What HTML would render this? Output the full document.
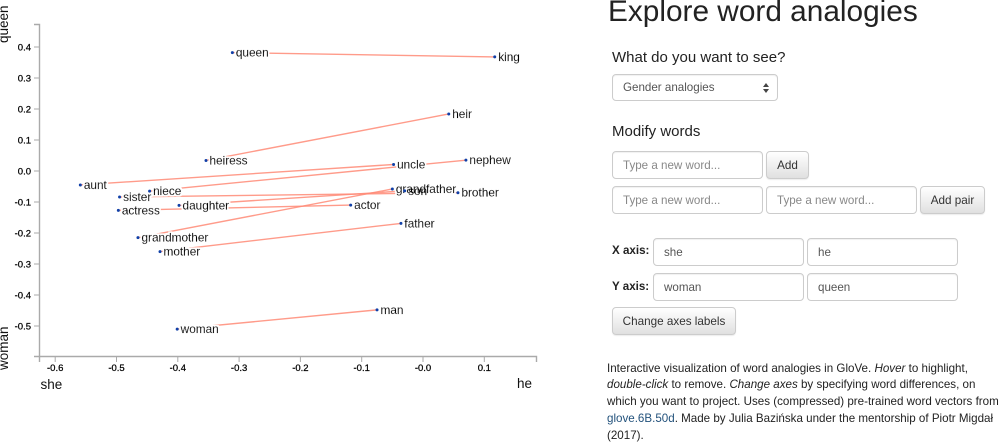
<!DOCTYPE html>
<html lang="en">
<head>
<meta charset="utf-8">
<title>Explore word analogies</title>
<style>
html,body{margin:0;padding:0;background:#fff;}
body{width:999px;height:441px;position:relative;overflow:hidden;font-family:"Liberation Sans",Arial,sans-serif;color:#222;}
#chart{position:absolute;left:0;top:0;}
#chart text{font-family:"Liberation Sans",Arial,sans-serif;}
.abs{position:absolute;white-space:nowrap;margin:0;}
.title{left:608px;top:-10px;font-size:29.8px;line-height:44px;font-weight:400;color:#222;}
.h{left:612px;font-size:15px;line-height:20px;font-weight:400;color:#222;}
.field{position:absolute;box-sizing:border-box;border:1px solid #ccc;border-radius:4px;background:#fff;font:11.6px "Liberation Sans",Arial,sans-serif;color:#555;padding:0 10px;box-shadow:inset 0 1px 1px rgba(0,0,0,.06);outline:none;margin:0;}
.field::placeholder{color:#888;opacity:1;}
.btn{position:absolute;box-sizing:border-box;border:1px solid #ccc;border-radius:4px;background:linear-gradient(#fff,#e0e0e0);font:11.7px "Liberation Sans",Arial,sans-serif;color:#333;padding:0;margin:0;text-align:center;box-shadow:0 1px 1px rgba(0,0,0,.08);}
.lab{font-size:11.6px;line-height:16px;font-weight:700;color:#222;left:612px;}
.para{left:607px;top:360.5px;font-size:11.6px;line-height:16.8px;color:#222;}
.para a{color:#23527c;text-decoration:none;}
.sel{position:absolute;left:612px;top:74px;width:166px;height:27px;box-sizing:border-box;border:1px solid #ccc;border-radius:4px;background:#fff;font-size:11.6px;line-height:25px;color:#555;padding-left:10px;box-shadow:inset 0 1px 1px rgba(0,0,0,.06);}
.arr{position:absolute;left:150px;width:0;height:0;border-left:3px solid transparent;border-right:3px solid transparent;}
</style>
</head>
<body>
<svg id="chart" width="590" height="441" viewBox="0 0 590 441">
  <defs>
    <filter id="halo" x="-5%" y="-5%" width="110%" height="110%">
      <feMorphology in="SourceAlpha" operator="dilate" radius="1.4" result="grown"/>
      <feFlood flood-color="#ffffff" result="white"/>
      <feComposite in="white" in2="grown" operator="in" result="haloFill"/>
      <feMerge>
        <feMergeNode in="haloFill"/>
        <feMergeNode in="SourceGraphic"/>
      </feMerge>
    </filter>
  </defs>
</svg>

<h1 class="abs title">Explore word analogies</h1>
<h2 class="abs h" style="top:48px">What do you want to see?</h2>
<div class="sel">Gender analogies
  <span class="arr" style="top:8px;border-bottom:4px solid #444"></span>
  <span class="arr" style="top:14px;border-top:4px solid #444"></span>
</div>
<h2 class="abs h" style="top:122px">Modify words</h2>
<input class="field" style="left:612px;top:151px;width:151px;height:28px" placeholder="Type a new word...">
<button class="btn" style="left:766px;top:151px;width:43px;height:28px">Add</button>
<input class="field" style="left:612px;top:186px;width:151px;height:28px" placeholder="Type a new word...">
<input class="field" style="left:766px;top:186px;width:151px;height:28px" placeholder="Type a new word...">
<button class="btn" style="left:920px;top:186px;width:65px;height:28px">Add pair</button>

<div class="abs lab" style="top:243px">X axis:</div>
<input class="field" style="left:653px;top:238px;width:151px;height:28px" value="she">
<input class="field" style="left:807px;top:238px;width:151px;height:28px" value="he">
<div class="abs lab" style="top:278.5px">Y axis:</div>
<input class="field" style="left:653px;top:273px;width:151px;height:28px" value="woman">
<input class="field" style="left:807px;top:273px;width:151px;height:28px" value="queen">
<button class="btn" style="left:612px;top:307px;width:124px;height:28px">Change axes labels</button>

<p class="abs para">Interactive visualization of word analogies in GloVe. <i>Hover</i> to highlight,<br><i>double-click</i> to remove. <i>Change axes</i> by specifying word differences, on<br>which you want to project. Uses (compressed) pre-trained word vectors from<br><a href="#">glove.6B.50d</a>. Made by Julia Bazińska under the mentorship of Piotr Migdał<br>(2017).</p>

<script>
const pairWordsA = ["queen","heiress","aunt","niece","sister","actress","daughter","grandmother","mother","woman"];
const pairXA = [-0.311,-0.354,-0.559,-0.446,-0.495,-0.497,-0.398,-0.465,-0.429,-0.401];
const pairYA = [0.382,0.034,-0.045,-0.065,-0.084,-0.127,-0.111,-0.215,-0.260,-0.510];
const pairWordsB = ["king","heir","uncle","nephew","brother","actor","son","grandfather","father","man"];
const pairXB = [0.117,0.042,-0.048,0.070,0.057,-0.118,-0.030,-0.050,-0.036,-0.075];
const pairYB = [0.368,0.184,0.021,0.035,-0.070,-0.110,-0.064,-0.058,-0.169,-0.448];
const xTicks = [-0.6,-0.5,-0.4,-0.3,-0.2,-0.1,0.0,0.1];
const xTickLabels = ["-0.6","-0.5","-0.4","-0.3","-0.2","-0.1","-0.0","0.1"];
const yTicks = [0.4,0.3,0.2,0.1,0.0,-0.1,-0.2,-0.3,-0.4,-0.5];
const yTickLabels = ["0.4","0.3","0.2","0.1","0.0","-0.1","-0.2","-0.3","-0.4","-0.5"];

const NS = "http://www.w3.org/2000/svg";
const svg = document.getElementById("chart");
function xScale(v){ return 423 + 613 * v; }
function yScale(v){ return 171 - 310 * v; }
function make(tag, attrs, text){
  const el = document.createElementNS(NS, tag);
  for (const k in attrs) el.setAttribute(k, attrs[k]);
  if (text !== undefined) el.textContent = text;
  return el;
}
const axisColor = "#aaa";

const xAxisLine = make("path", {d:"M39.5 362V356.5H536.5V362", fill:"none", stroke:axisColor, "stroke-width":1.4});


svg.appendChild(xAxisLine);

const yAxisLine = make("path", {d:"M34 24.5H39.5V356.5H34", fill:"none", stroke:axisColor, "stroke-width":1.4});


svg.appendChild(yAxisLine);

xTicks.forEach(function(t, i){
  const px = xScale(t);
  const tick = make("line", {x1:px, x2:px, y1:356.5, y2:362, stroke:axisColor, "stroke-width":1});
  
  
  svg.appendChild(tick);
  const label = make("text", {x:px, y:371, "text-anchor":"middle", "font-size":9.5, fill:"#000", stroke:"#000", "stroke-width":0.25}, xTickLabels[i]);
  
  
  svg.appendChild(label);
});
yTicks.forEach(function(t, i){
  const py = yScale(t);
  const tick = make("line", {x1:34, x2:39.5, y1:py, y2:py, stroke:axisColor, "stroke-width":1});
  
  
  svg.appendChild(tick);
  const label = make("text", {x:31, y:py + 3.5, "text-anchor":"end", "font-size":9.5, fill:"#000", stroke:"#000", "stroke-width":0.25}, yTickLabels[i]);
  
  
  svg.appendChild(label);
});

pairWordsA.forEach(function(w, i){
  const line = make("line", {x1:xScale(pairXA[i]), y1:yScale(pairYA[i]), x2:xScale(pairXB[i]), y2:yScale(pairYB[i]), stroke:"#ff8a75", "stroke-width":1.4, "stroke-opacity":0.85});
  
  
  svg.appendChild(line);
});

const labelGroup = make("g", {filter:"url(#halo)"});


svg.appendChild(labelGroup);
const dotGroup = make("g", {});


svg.appendChild(dotGroup);

function drawWord(word, xv, yv){
  const px = xScale(xv), py = yScale(yv);
  const label = make("text", {x:px + 3.5, y:py + 4, "font-size":11.8, fill:"#000", stroke:"#000", "stroke-width":0.15}, word);
  
  
  labelGroup.appendChild(label);
  const dot = make("circle", {cx:px, cy:py, r:1.5, fill:"#1040a8"});
  
  
  dotGroup.appendChild(dot);
}
pairWordsA.forEach(function(w, i){ drawWord(w, pairXA[i], pairYA[i]); });
pairWordsB.forEach(function(w, i){ drawWord(w, pairXB[i], pairYB[i]); });

const xLeft = make("text", {x:40.5, y:389, "font-size":13.5, fill:"#111"}, "she");


svg.appendChild(xLeft);
const xRight = make("text", {x:517, y:388, "font-size":13.5, fill:"#111"}, "he");


svg.appendChild(xRight);
const yTop = make("text", {transform:"translate(8,43) rotate(-90)", "font-size":13.5, fill:"#111"}, "queen");


svg.appendChild(yTop);
const yBottom = make("text", {transform:"translate(8,370) rotate(-90)", "font-size":13.5, fill:"#111"}, "woman");


svg.appendChild(yBottom);
</script>
</body>
</html>
